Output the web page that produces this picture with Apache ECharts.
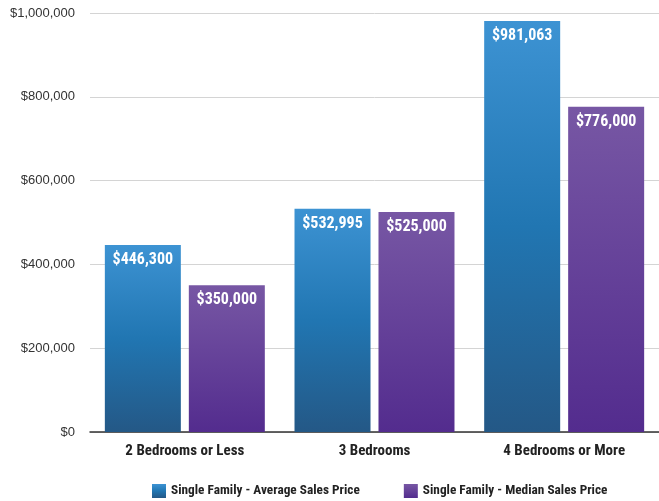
<!DOCTYPE html>
<html>
<head>
<meta charset="utf-8">
<script src="https://cdn.jsdelivr.net/npm/echarts@6/dist/echarts.min.js"></script>
<style>
  html, body { margin: 0; padding: 0; background: #fff; }
  #main { width: 659px; height: 501px; }
</style>
</head>
<body>
<div id="main"></div>
<script>
var categories = ['2 Bedrooms or Less', '3 Bedrooms', '4 Bedrooms or More'];
var seriesNames = ['Single Family - Average Sales Price', 'Single Family - Median Sales Price'];
var averagePrice = [446300, 532995, 981063];
var medianPrice = [350000, 525000, 776000];

var condensed = "'Roboto Condensed', 'Liberation Sans Narrow', 'DejaVu Sans Condensed', Roboto, sans-serif";

function grad(stops) {
    return new echarts.graphic.LinearGradient(0, 0, 0, 1, stops);
}
var blue = grad([
    { offset: 0, color: '#3d93d3' },
    { offset: 0.5, color: '#2176b2' },
    { offset: 1, color: '#245886' }
]);
var purple = grad([
    { offset: 0, color: '#7757a4' },
    { offset: 1, color: '#532c8e' }
]);

function money(v) {
    return '$' + v.toLocaleString('en-US');
}

var myChart = echarts.init(document.getElementById('main'));

var barLabel = {
    show: true,
    position: 'insideTop',
    distance: 7,
    color: '#fff',
    fontFamily: condensed,
    fontWeight: 'bold',
    fontSize: 16,
    formatter: function (p) { return money(p.value); }
};

var option = {
    backgroundColor: '#fff',
    animation: false,
    grid: { left: 90, top: 13, width: 572, height: 419 },
    legend: {
        left: 147,
        top: 479,
        itemWidth: 14,
        itemHeight: 14,
        itemGap: 44,
        itemTextGap: 7,
        icon: 'rect',
        textStyle: { fontFamily: condensed, fontWeight: 'bold', fontSize: 13.3, color: '#222' },
        data: [
            { name: seriesNames[0], itemStyle: { color: blue } },
            { name: seriesNames[1], itemStyle: { color: purple } }
        ]
    },
    xAxis: {
        type: 'category',
        data: categories,
        axisTick: { show: false },
        axisLine: { lineStyle: { color: '#333', width: 1.5 } },
        axisLabel: {
            margin: 12,
            color: '#222',
            fontFamily: condensed,
            fontWeight: 'bold',
            fontSize: 15
        }
    },
    yAxis: {
        type: 'value',
        min: 0,
        max: 1000000,
        interval: 200000,
        axisLine: { show: false },
        axisTick: { show: false },
        splitLine: { lineStyle: { color: '#d4d4d4', width: 1 } },
        axisLabel: {
            margin: 15,
            color: '#333',
            fontFamily: 'Liberation Sans, Arial, sans-serif',
            fontSize: 13,
            formatter: function (v) { return money(v); }
        }
    },
    series: [
        {
            name: seriesNames[0],
            type: 'bar',
            data: averagePrice,
            barWidth: 76,
            barGap: '10.5%',
            itemStyle: { color: blue },
            label: barLabel
        },
        {
            name: seriesNames[1],
            type: 'bar',
            data: medianPrice,
            barWidth: 76,
            itemStyle: { color: purple },
            label: barLabel
        }
    ]
};

myChart.setOption(option);
</script>
</body>
</html>
